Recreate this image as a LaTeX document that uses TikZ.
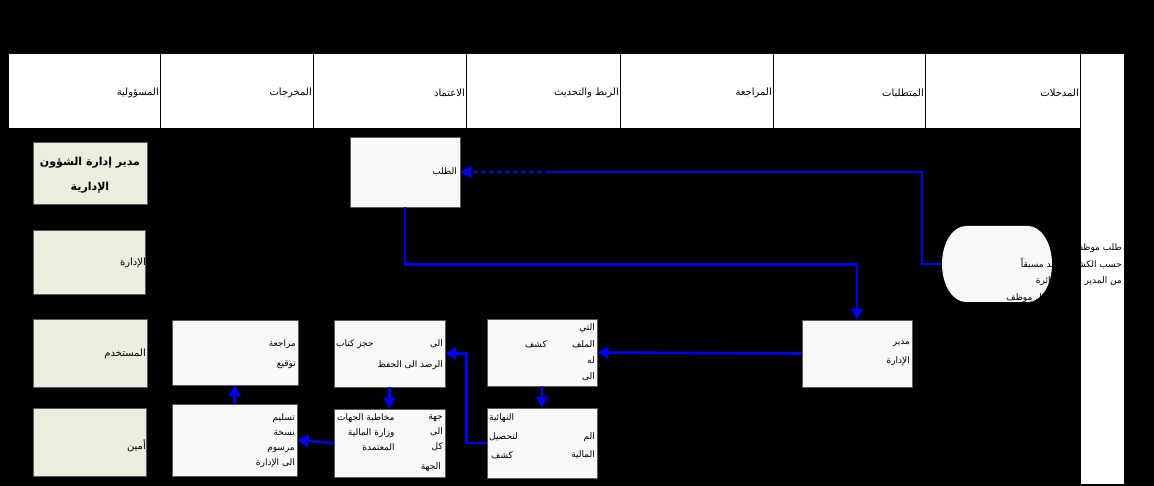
\documentclass[tikz,border=0pt]{standalone}
\usepackage{fontspec}
\usetikzlibrary{arrows.meta}
\TeXXeTstate=1
\newfontfamily\arfont[Script=Arabic]{DejaVu Sans}
\definecolor{boxfill}{HTML}{F8F8F8}
\definecolor{greenfill}{HTML}{EBEEDC}
\definecolor{boxline}{HTML}{5A5A5A}
\definecolor{flowblue}{HTML}{0000F0}
\tikzset{
  hdrcell/.style={draw=black, line width=0.9pt, fill=white},
  stepbox/.style={draw=boxline, fill=boxfill, line width=0.8pt, inner sep=0pt},
  rolebox/.style={draw=boxline, fill=greenfill, line width=0.8pt, inner sep=0pt},
  lbl/.style={text=black, inner sep=0pt, font=\arfont\fontsize{9}{15}\selectfont},
  hlbl/.style={text=black, inner sep=0pt, font=\arfont\fontsize{10}{12}\selectfont},
  titlelbl/.style={text=black, inner sep=0pt, align=center, font=\arfont\bfseries\fontsize{11}{25}\selectfont},
  flowline/.style={draw=flowblue, line width=2.6pt},
  flow/.style={flowline, -{Triangle[length=11pt,width=12pt]}}
}
\begin{document}
\begin{tikzpicture}[x=1pt,y=-1pt]
\fill[black] (0,0) rectangle (1154,486);
\useasboundingbox (0,0) rectangle (1154,486);
% header cells
\node[hdrcell, minimum width=152pt, minimum height=75pt] (c1) at (84,90.5) {};
\node[hdrcell, minimum width=153pt, minimum height=75pt] (c2) at (236.5,90.5) {};
\node[hdrcell, minimum width=153pt, minimum height=75pt] (c3) at (389.5,90.5) {};
\node[hdrcell, minimum width=154pt, minimum height=75pt] (c4) at (543,90.5) {};
\node[hdrcell, minimum width=153pt, minimum height=75pt] (c5) at (696.5,90.5) {};
\node[hdrcell, minimum width=152pt, minimum height=75pt] (c6) at (849,90.5) {};
\node[hdrcell, minimum width=155pt, minimum height=75pt] (c7) at (1002.5,90.5) {};
\node[hdrcell, minimum width=44pt, minimum height=431pt] (band) at (1102,268.5) {};
% header labels
\node[hlbl, anchor=east] (h1) at (159,93) {\beginR المسؤولية\endR};
\node[hlbl, anchor=east] (h2) at (312,93) {\beginR المخرجات\endR};
\node[hlbl, anchor=east] (h3) at (465,93) {\beginR الاعتماد\endR};
\node[hlbl, anchor=east] (h4) at (619,93) {\beginR الربط والتحديث\endR};
\node[hlbl, anchor=east] (h5) at (772,93) {\beginR المراجعة\endR};
\node[hlbl, anchor=east] (h6) at (924,93) {\beginR المتطلبات\endR};
\node[hlbl, anchor=east] (h7) at (1079,93) {\beginR المدخلات\endR};
% role boxes
\node[rolebox, minimum width=114pt, minimum height=62pt] (g1) at (90,173) {};
\node[rolebox, minimum width=112pt, minimum height=64pt] (g2) at (89,262) {};
\node[rolebox, minimum width=114pt, minimum height=68pt] (g3) at (90,353) {};
\node[rolebox, minimum width=113pt, minimum height=68pt] (g4) at (89.5,442) {};
\node[titlelbl] (g1t) at (90,175) {\beginR مدير إدارة الشؤون\endR\\\beginR الإدارية\endR};
\node[hlbl, anchor=east] (g2t) at (146,263) {\beginR الإدارة\endR};
\node[hlbl, anchor=east] (g3t) at (146,354) {\beginR المستخدم\endR};
\node[hlbl, anchor=east] (g4t) at (146,446) {\beginR أمين\endR};
% process boxes
\node[stepbox, minimum width=110pt, minimum height=70pt] (T) at (405,172) {};
\node[stepbox, minimum width=126pt, minimum height=65pt] (A) at (235,352.5) {};
\node[stepbox, minimum width=125pt, minimum height=72pt] (B) at (234.5,440) {};
\node[stepbox, minimum width=111pt, minimum height=67pt] (C) at (389.5,353.5) {};
\node[stepbox, minimum width=111pt, minimum height=68pt] (D) at (389.5,443) {};
\node[stepbox, minimum width=110pt, minimum height=67pt] (E) at (542,352.5) {};
\node[stepbox, minimum width=110pt, minimum height=70pt] (F) at (542,443) {};
\node[stepbox, minimum width=110pt, minimum height=67pt] (G) at (857,353.5) {};
% terminal
\node[inner sep=0pt, minimum width=110pt, minimum height=76pt] (H) at (997,264) {};
\fill[boxfill] (966,226) -- (1028,226) arc[start angle=-90, end angle=90, x radius=24, y radius=38]
  -- (966,302) arc[start angle=90, end angle=270, x radius=24, y radius=38] -- cycle;
% texts in boxes
\node[lbl, anchor=east] (Tt) at (457,172) {\beginR الطلب\endR};
\node[lbl, anchor=east] (At1) at (296,344) {\beginR مراجعة\endR};
\node[lbl, anchor=east] (At2) at (296,365) {\beginR توقيع\endR};
\node[lbl, anchor=east, align=right] (Bt) at (295,440.5) {\beginR تسليم\endR\\\beginR نسخة\endR\\\beginR مرسوم\endR\\\beginR الى الإدارة\endR};
\node[lbl, anchor=east] (Ct1) at (443,344) {\beginR الى\endR};
\node[lbl, anchor=west] (Ct1b) at (336,344) {\beginR حجز كتاب\endR};
\node[lbl, anchor=east] (Ct2) at (443,365) {\beginR الرصد الى الحفظ\endR};
\node[lbl, anchor=west, align=right] (Dt1) at (337,432.5) {\beginR مخاطبة الجهات\endR\\\beginR وزارة المالية\endR\\\beginR المعتمدة\endR};
\node[lbl, anchor=east, align=right] (Dt2) at (443,432.5) {\beginR جهة\endR\\\beginR الى\endR\\\beginR كل\endR};
\node[lbl, anchor=east] (Dt3) at (441,467) {\beginR الجهة\endR};
\node[lbl, anchor=east, align=right] (Et1) at (595,352.5) {\beginR التي\endR\\[1.3pt]\beginR الملف\endR\\[1.3pt]\beginR له\endR\\[1.3pt]\beginR الى\endR};
\node[lbl, anchor=east] (Et2) at (547,344) {\beginR كشف\endR};
\node[lbl, anchor=west] (Ft1) at (489,418) {\beginR النهائية\endR};
\node[lbl, anchor=west] (Ft2) at (489,437) {\beginR لتحصيل\endR};
\node[lbl, anchor=west] (Ft3) at (491,455) {\beginR كشف\endR};
\node[lbl, anchor=east] (Ft4) at (595,437) {\beginR الم\endR};
\node[lbl, anchor=east] (Ft5) at (595,455) {\beginR المالية\endR};
\node[lbl, anchor=east] (Gt1) at (910,344) {\beginR مدير\endR};
\node[lbl, anchor=east] (Gt2) at (910,361) {\beginR الإدارة\endR};
\node[lbl, anchor=east, align=right] (Ht) at (1122,265) {\beginR طلب موظف\endR\\[1.5pt]\beginR حسب الكشف المعد مسبقاً\endR\\[1.5pt]\beginR من المدير العام للدائرة\endR};
\node[lbl, anchor=east] (Ht4) at (1050,298) {\beginR لكل موظف\endR};
% connectors
\coordinate (dp) at (550,172);
\draw[flowline] (H.west) -- ++(-20,0) |- (dp);
\draw[flow, dash pattern=on 5pt off 3pt] (dp) -- (T.east);
\draw[flow] (T.south) -- ++(0,57) -| (G.north);
\draw[flow] (G.west) -- (E.east);
\draw[flow] (E.south) -- (F.north);
\draw[flow] (F.west) -- ++(-20,0) |- (C.east);
\draw[flow] (C.south) -- (D.north);
\draw[flow] (D.west) -- (B.east);
\draw[flow] (B.north) -- (A.south);
\end{tikzpicture}
\end{document}
